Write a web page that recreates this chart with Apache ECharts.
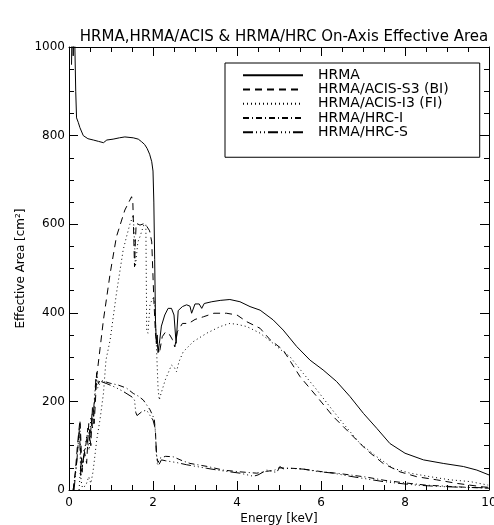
<!DOCTYPE html>
<html>
<head>
<meta charset="utf-8">
<title>HRMA, HRMA/ACIS & HRMA/HRC On-Axis Effective Area</title>
<script src="https://cdn.jsdelivr.net/npm/echarts@6/dist/echarts.min.js"></script>
<style>
  html, body { margin: 0; padding: 0; background: #fff; overflow: hidden; }
  #chart { width: 494px; height: 525px; }
</style>
</head>
<body>
<div id="chart"></div>
<script>
// Axis ticks
const xTicks = [0, 2, 4, 6, 8, 10];
const yTicks = [0, 200, 400, 600, 800, 1000];

// Series names (legend order)
const seriesNames = ['HRMA', 'HRMA/ACIS-S3 (BI)', 'HRMA/ACIS-I3 (FI)', 'HRMA/HRC-I', 'HRMA/HRC-S'];

// HRMA alone: energy [keV] and effective area [cm^2]
const hrmaE = [0.06,0.08,0.10,0.12,0.14,0.16,0.18,0.22,0.26,0.34,0.45,0.58,0.70,0.82,0.90,1.05,1.20,1.33,1.53,1.65,1.73,1.80,1.86,1.92,1.97,2.00,2.02,2.04,2.06,2.08,2.10,2.12,2.15,2.20,2.28,2.36,2.44,2.50,2.55,2.60,2.70,2.80,2.88,2.92,3.00,3.10,3.16,3.22,3.40,3.60,3.83,4.07,4.31,4.55,4.86,5.10,5.42,5.74,6.05,6.37,6.69,7.01,7.33,7.64,8.00,8.44,8.91,9.39,9.71,10.0];
const hrmaA = [960,1100,980,1100,1000,900,840,830,818,800,793,790,787,784,790,792,795,797,795,792,786,780,771,758,741,720,650,520,380,330,350,310,330,370,395,410,410,395,331,405,414,418,415,399,420,420,410,421,425,428,430,425,414,406,384,361,324,293,271,245,211,173,139,105,83,68,60,53,45,34];

// HRMA with ACIS-S3 (back-illuminated)
const acisS3E = [0.10,0.15,0.20,0.26,0.28,0.31,0.36,0.42,0.47,0.52,0.56,0.60,0.66,0.74,0.82,0.98,1.13,1.33,1.49,1.52,1.56,1.58,1.60,1.69,1.81,1.86,1.92,1.97,2.02,2.06,2.10,2.15,2.22,2.30,2.40,2.46,2.52,2.58,2.70,2.85,3.00,3.20,3.45,3.75,4.00,4.23,4.55,4.79,5.10,5.50,5.90,6.29,6.69,7.09,7.48,7.88,8.28,8.75,9.23,9.86,10.0];
const acisS3A = [0,40,100,158,120,40,90,60,150,100,190,150,256,320,384,489,572,632,662,650,504,560,602,598,602,594,585,560,430,350,330,308,346,357,350,340,323,357,376,376,385,391,399,399,395,380,365,339,316,256,211,166,128,90,60,41,30,23,15,7,6];

// HRMA with ACIS-I3 (front-illuminated)
const acisI3E = [0.24,0.27,0.29,0.32,0.40,0.47,0.52,0.57,0.62,0.66,0.74,0.82,0.88,0.98,1.13,1.29,1.37,1.45,1.53,1.56,1.58,1.64,1.69,1.78,1.83,1.85,1.88,1.93,2.00,2.04,2.08,2.12,2.15,2.17,2.29,2.44,2.50,2.56,2.62,2.72,2.96,3.28,3.60,3.83,4.00,4.23,4.55,4.86,5.10,5.26,5.58,5.90,6.21,6.53,6.93,7.33,7.72,8.12,8.60,9.07,9.55,9.98];
const acisI3A = [0,45,20,5,10,30,15,40,80,113,160,218,293,339,444,542,572,600,621,560,504,560,572,598,600,360,354,420,433,425,330,230,203,211,248,282,278,267,290,312,335,354,369,376,374,369,354,331,312,301,263,226,188,150,105,75,49,38,30,23,19,11];

// HRMA with HRC-I
const hrcIE = [0.10,0.18,0.24,0.26,0.29,0.33,0.40,0.45,0.50,0.55,0.58,0.62,0.66,0.70,0.74,0.98,1.17,1.37,1.53,1.65,1.77,1.93,2.03,2.06,2.08,2.12,2.17,2.30,2.48,2.70,2.88,3.30,3.67,4.07,4.47,4.70,4.90,5.00,5.30,5.50,6.05,6.45,7.09,7.50,8.00,8.50,9.07,9.50,10.0];
const hrcIA = [0,60,130,150,40,60,100,140,110,175,150,215,265,240,248,241,237,230,218,212,203,181,160,130,80,62,72,76,75,66,60,53,45,41,38,42,45,50,49,48,41,37,29,22,16,11,8,6,4];

// HRMA with HRC-S
const hrcSE = [0.12,0.20,0.25,0.28,0.34,0.42,0.48,0.52,0.56,0.60,0.64,0.68,0.76,0.90,1.10,1.30,1.50,1.56,1.59,1.62,1.75,1.85,1.95,2.00,2.05,2.08,2.10,2.13,2.20,2.30,2.56,2.80,3.28,3.60,4.07,4.39,4.50,4.71,4.86,4.95,5.02,5.10,5.26,5.60,5.90,6.29,6.69,7.09,7.48,7.96,8.28,8.80,9.40,9.94];
const hrcSA = [0,80,140,30,70,120,90,165,140,200,250,230,245,240,232,222,210,203,175,168,178,180,165,158,140,90,60,55,68,66,62,57,49,44,38,31,34,45,41,40,53,48,49,47,42,38,31,25,19,14,11,8,6,5];

const pair = (xs, ys) => xs.map((x, i) => [x, ys[i]]);

const FONT = 'DejaVu Sans';
const INK = '#000';

const dashStyles = [
  'solid',
  [7, 5],
  [1, 3],
  [6, 3, 1, 3],
  [10, 3, 1, 3, 1, 3, 1, 3]
];
const seriesData = [
  pair(hrmaE, hrmaA),
  pair(acisS3E, acisS3A),
  pair(acisI3E, acisI3A),
  pair(hrcIE, hrcIA),
  pair(hrcSE, hrcSA)
];

const axisCommon = {
  type: 'value',
  axisLine: { show: true, onZero: false, lineStyle: { color: INK, width: 1 } },
  axisTick: { show: true, inside: true, length: 9, lineStyle: { color: INK, width: 1 } },
  minorTick: { show: true, splitNumber: 4, length: 5, lineStyle: { color: INK, width: 1 } },
  splitLine: { show: false },
  minorSplitLine: { show: false }
};

const plainNumber = v => String(v);

const chart = echarts.init(document.getElementById('chart'), null, { renderer: 'canvas' });

chart.setOption({
  backgroundColor: '#fff',
  animation: false,
  title: {
    text: 'HRMA,HRMA/ACIS & HRMA/HRC On-Axis Effective Area',
    left: 279,
    textAlign: 'center',
    top: 25,
    textStyle: { fontFamily: FONT, fontSize: 15, fontWeight: 'normal', color: INK }
  },
  legend: {
    data: seriesNames,
    orient: 'vertical',
    left: 225,
    top: 63,
    itemWidth: 60,
    itemHeight: 10,
    itemGap: 0,
    padding: [5, 31, 18, 17],
    borderColor: INK,
    borderWidth: 1,
    selectedMode: false,
    itemStyle: { opacity: 0 },
    textStyle: { fontFamily: FONT, fontSize: 14, lineHeight: 14.25, color: INK, padding: [0, 0, 0, 10] }
  },
  grid: { left: 69, right: 5, top: 47, bottom: 35, containLabel: false, outerBoundsMode: 'none' },
  xAxis: [
    Object.assign({}, axisCommon, {
      min: xTicks[0], max: xTicks[xTicks.length - 1], interval: xTicks[1] - xTicks[0],
      position: 'bottom',
      name: 'Energy [keV]',
      nameLocation: 'middle',
      nameGap: 23,
      nameMoveOverlap: false,
      nameTextStyle: { fontFamily: FONT, fontSize: 12, color: INK },
      axisLabel: { show: true, margin: 7, fontFamily: FONT, fontSize: 12, color: INK, formatter: plainNumber }
    }),
    Object.assign({}, axisCommon, {
      min: xTicks[0], max: xTicks[xTicks.length - 1], interval: xTicks[1] - xTicks[0],
      position: 'top',
      axisLabel: { show: false }
    })
  ],
  yAxis: [
    Object.assign({}, axisCommon, {
      min: yTicks[0], max: yTicks[yTicks.length - 1], interval: yTicks[1] - yTicks[0],
      position: 'left',
      name: 'Effective Area [cm²]',
      nameLocation: 'middle',
      nameGap: 42,
      nameRotate: 90,
      nameMoveOverlap: false,
      nameTextStyle: { fontFamily: FONT, fontSize: 12, color: INK },
      axisLabel: { show: true, margin: 4, fontFamily: FONT, fontSize: 12, color: INK, formatter: plainNumber }
    }),
    Object.assign({}, axisCommon, {
      min: yTicks[0], max: yTicks[yTicks.length - 1], interval: yTicks[1] - yTicks[0],
      position: 'right',
      axisLabel: { show: false }
    })
  ],
  series: seriesNames.map((name, i) => ({
    name: name,
    type: 'line',
    xAxisIndex: 0,
    yAxisIndex: 0,
    data: seriesData[i],
    symbol: 'none',
    clip: true,
    lineStyle: { color: INK, width: 1, type: dashStyles[i] },
    itemStyle: { color: INK },
    emphasis: { disabled: true }
  }))
});
</script>
</body>
</html>
